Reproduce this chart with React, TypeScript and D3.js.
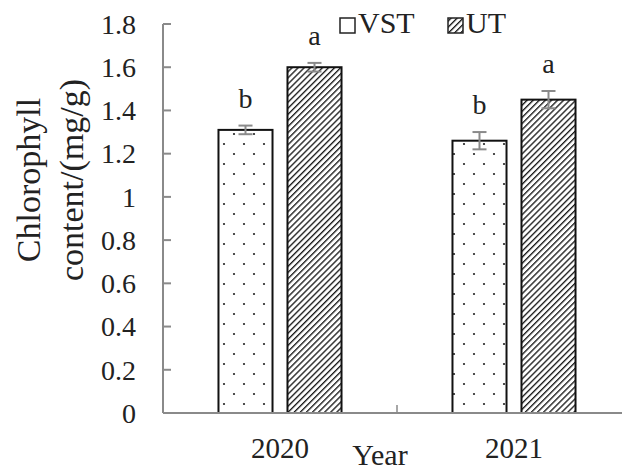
import React from "react";
import * as d3 from "d3";

const years = ["2020", "2021"];
const seriesNames = ["VST", "UT"];
const vstValues = [1.31, 1.26];
const utValues = [1.6, 1.45];
const vstErr = [0.02, 0.04];
const utErr = [0.02, 0.04];
const vstLetters = ["b", "b"];
const utLetters = ["a", "a"];
const yTicks = [0, 0.2, 0.4, 0.6, 0.8, 1, 1.2, 1.4, 1.6, 1.8];

const W = 622, H = 470;
const font = "'Liberation Serif', 'Times New Roman', serif";
const axisColor = "#8a8a8a";
const textColor = "#222";

export default function App() {
  const left = 163, right = 631, top = 24, bottom = 413;
  const y = d3.scaleLinear().domain([0, 1.8]).range([bottom, top]);
  const x0 = d3.scaleBand().domain(years).range([left, right]).paddingInner(0).paddingOuter(0);
  const x1 = d3.scaleBand().domain(seriesNames).range([0, x0.bandwidth()]).paddingInner(0.217).paddingOuter(0.804);

  const series = [
    { name: "VST", values: vstValues, err: vstErr, letters: vstLetters, fill: "url(#dots)" },
    { name: "UT", values: utValues, err: utErr, letters: utLetters, fill: "url(#hatch)" },
  ];

  return (
    <svg width={W} height={H} style={{ position: "absolute", left: 0, top: 0, background: "#fff" }}>
      <defs>
        <pattern id="dots" patternUnits="userSpaceOnUse" width={20} height={20} x={0} y={0}>
          <rect width={20} height={20} fill="#fff" />
          <circle cx={4} cy={4} r={1.1} fill="#222" />
          <circle cx={14} cy={14} r={1.1} fill="#222" />
        </pattern>
        <pattern id="hatch" patternUnits="userSpaceOnUse" width={4.3} height={4.3} patternTransform="rotate(45)">
          <rect width={4.3} height={4.3} fill="#fff" />
          <line x1={0} y1={0} x2={0} y2={4.3} stroke="#1a1a1a" strokeWidth={2.7} />
        </pattern>
      </defs>

      {/* y axis */}
      <line x1={left} y1={top} x2={left} y2={bottom} stroke={axisColor} strokeWidth={2} />
      {yTicks.map((t) => (
        <g key={t}>
          <line x1={left} x2={left + 8} y1={y(t)} y2={y(t)} stroke={axisColor} strokeWidth={2} />
          <text x={136} y={y(t)} dy="0.35em" textAnchor="end" fontFamily={font} fontSize={28} fill={textColor}>
            {d3.format("~g")(t)}
          </text>
        </g>
      ))}

      {/* bars */}
      {years.map((yr, i) => (
        <g key={yr}>
          {series.map((s) => {
            const bx = (x0(yr) as number) + (x1(s.name) as number);
            const bw = x1.bandwidth();
            const cx = bx + bw / 2;
            const v = s.values[i];
            const e = s.err[i];
            return (
              <g key={s.name}>
                <rect x={bx} y={y(v)} width={bw} height={bottom - y(v)} fill={s.fill} stroke="#111" strokeWidth={2} />
                <line x1={cx} x2={cx} y1={y(v + e)} y2={y(v - e)} stroke={axisColor} strokeWidth={2} />
                <line x1={cx - 7} x2={cx + 7} y1={y(v + e)} y2={y(v + e)} stroke={axisColor} strokeWidth={2} />
                <line x1={cx - 7} x2={cx + 7} y1={y(v - e)} y2={y(v - e)} stroke={axisColor} strokeWidth={2} />
                <text x={cx} y={y(v + e) - 18} textAnchor="middle" fontFamily={font} fontSize={28} fill={textColor}>
                  {s.letters[i]}
                </text>
              </g>
            );
          })}
          <text x={(x0(yr) as number) + x0.bandwidth() / 2} y={458} textAnchor="middle" fontFamily={font} fontSize={29} fill={textColor}>
            {yr}
          </text>
        </g>
      ))}

      {/* x axis */}
      <line x1={left} y1={bottom} x2={right} y2={bottom} stroke={axisColor} strokeWidth={2} />
      {years.slice(1).map((yr) => (
        <line key={yr} x1={x0(yr) as number} x2={x0(yr) as number} y1={bottom} y2={bottom - 8} stroke={axisColor} strokeWidth={1.5} />
      ))}
      <text x={380} y={465} textAnchor="middle" fontFamily={font} fontSize={30} fill={textColor}>Year</text>

      {/* y title */}
      <g transform="translate(40,180) rotate(-90)">
        <text x={0} y={0} textAnchor="middle" fontFamily={font} fontSize={34} fill={textColor}>Chlorophyll</text>
        <text x={0} y={43} textAnchor="middle" fontFamily={font} fontSize={34} fill={textColor}>content/(mg/g)</text>
      </g>

      {/* legend */}
      {seriesNames.map((n, i) => {
        const lx = [340, 448][i];
        return (
          <g key={n}>
            <rect x={lx} y={18} width={15} height={15} fill={i === 0 ? "#fff" : "url(#hatch)"} stroke="#222" strokeWidth={1.5} />
            <text x={lx + 18} y={33} fontFamily={font} fontSize={30} fill={textColor}>{n}</text>
          </g>
        );
      })}
    </svg>
  );
}
